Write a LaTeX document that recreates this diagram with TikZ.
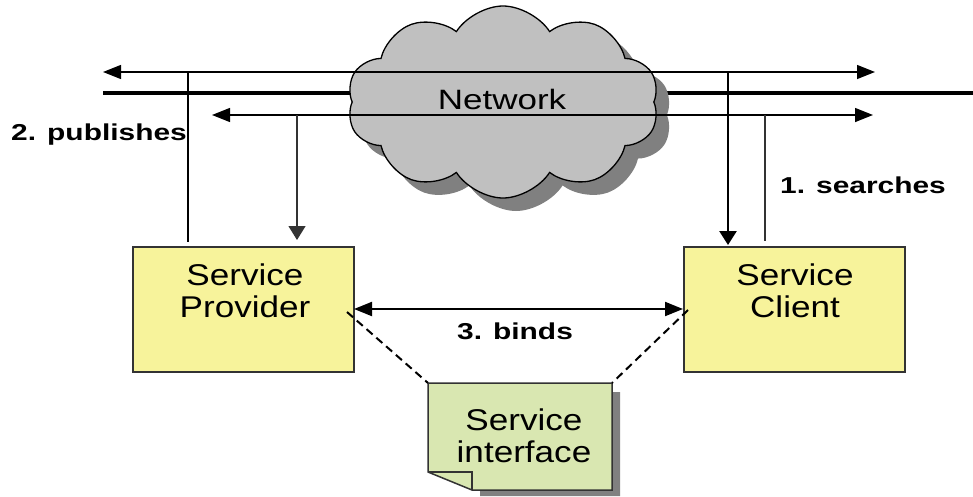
\documentclass[tikz,border=0pt]{standalone}
\usepackage{fontspec}
\setmainfont{Liberation Sans}
\newfontfamily\regf{Liberation Sans}[FakeStretch=1.17]
\newfontfamily\netf{Liberation Sans}[FakeStretch=1.25]
\newfontfamily\labf{Liberation Sans Bold}[FakeStretch=1.3]
\usetikzlibrary{arrows.meta,shapes.symbols}
\definecolor{boxfill}{HTML}{F7F39B}
\definecolor{notefill}{HTML}{D9E7B1}
\definecolor{cloudfill}{HTML}{C0C0C0}
\definecolor{cloudshadow}{HTML}{808080}
\definecolor{edgegray}{HTML}{333333}
\tikzset{
  tipV/.style={-{Triangle[length=14pt,width=17pt]}},
  tipHH/.style={{Triangle[length=18pt,width=14pt]}-{Triangle[length=18pt,width=14pt]}},
  thin line/.style={line width=1.4pt,draw=black},
  bigbox/.style={rectangle,draw=edgegray,line width=2pt,fill=boxfill,minimum width=221pt,minimum height=125pt,inner sep=0pt},
  boxtext/.style={font=\regf\fontsize{30pt}{32pt}\selectfont,anchor=base,inner sep=0pt},
  labtext/.style={font=\labf\fontsize{23pt}{26pt}\selectfont,inner sep=0pt},
  cloudshape/.style={cloud,cloud puffs=10,cloud puff arc=115,aspect=1.6,minimum width=312pt,minimum height=192pt,inner sep=0pt},
  dashlink/.style={line width=2pt,dash pattern=on 8pt off 5pt},
}
\begin{document}
\begin{tikzpicture}[x=1pt,y=-1pt]
\useasboundingbox (0,0) rectangle (973,496);
% coordinates
\coordinate (thickL) at (103,93);
\coordinate (thickR) at (973,93);
\coordinate (topL) at (103,72);
\coordinate (topR) at (875,72);
\coordinate (lowL) at (212,115);
\coordinate (lowR) at (873,115);
\coordinate (pubTop) at (188,72);
\coordinate (pubBot) at (188,242);
\coordinate (fromNet) at (297,115);
\coordinate (toProv) at (297,240);
\coordinate (cliTop) at (728,72);
\coordinate (toCli) at (728,245);
\coordinate (srTop) at (765,115);
\coordinate (srBot) at (765,241);
% thick backbone (behind the cloud)
\draw[line width=4.5pt] (thickL) -- (thickR);
% cloud
\node[cloudshape,fill=cloudshadow] (cloudS) at (516,115) {};
\node[cloudshape,fill=cloudfill,draw=black,line width=1.3pt] (cloud) at (503,102) {};
\node[font=\netf\fontsize{28pt}{30pt}\selectfont,anchor=base,inner sep=0pt] (net) at (502,109) {Network};
% thin network arrows
\draw[thin line,tipHH] (topL) -- (topR);
\draw[thin line,tipHH] (lowL) -- (lowR);
% boxes
\node[bigbox] (prov) at (243.5,309.5) {};
\node[bigbox] (cli) at (794.5,309.5) {};
\node[boxtext] (provA) at (245,285) {Service};
\node[boxtext] (provB) at (245,317) {Provider};
\node[boxtext] (cliA) at (795,285) {Service};
\node[boxtext] (cliB) at (795,317) {Client};
% publish / search connectors
\draw[line width=2.6pt] (pubTop) -- (pubBot);
\draw[line width=1.2pt,draw=black!80,tipV] (fromNet) -- (toProv);
\draw[line width=2.6pt,tipV] (cliTop) -- (toCli);
\draw[line width=1.2pt,draw=black!80] (srTop) -- (srBot);
\node[labtext,anchor=base east] (pub) at (187,140) {2. publishes};
\node[labtext,anchor=base west] (search) at (780,193) {1. searches};
% binds
\coordinate (bindL) at (354,309);
\coordinate (bindR) at (683,309);
\draw[line width=2pt,tipHH] (bindL) -- (bindR);
\node[labtext,anchor=base] (binds) at (515,339) {3. binds};
% service interface note
\coordinate (noteTL) at (428,383);
\coordinate (noteTR) at (612,383);
\fill[cloudshadow] (620,392) -- (620,496) -- (480,496) -- (480,490) -- (612,490) -- (612,392) -- cycle;
\draw[edgegray,line width=1.5pt,fill=notefill] (noteTL) -- (noteTR) -- (612,490) -- (472,490) -- (428,472) -- cycle;
\draw[edgegray,line width=1.2pt] (428,472) -- (472,472) -- (472,490);
\node[boxtext] (noteA) at (524,430) {Service};
\node[boxtext] (noteB) at (524,462) {interface};
\node[inner sep=0pt,minimum width=184pt,minimum height=107pt] (note) at (520,436.5) {};
% dashed links
\coordinate (dashL) at (347,312);
\coordinate (dashR) at (688,310);
\draw[dashlink] (dashL) -- (noteTL);
\draw[dashlink] (dashR) -- (noteTR);
\end{tikzpicture}
\end{document}
